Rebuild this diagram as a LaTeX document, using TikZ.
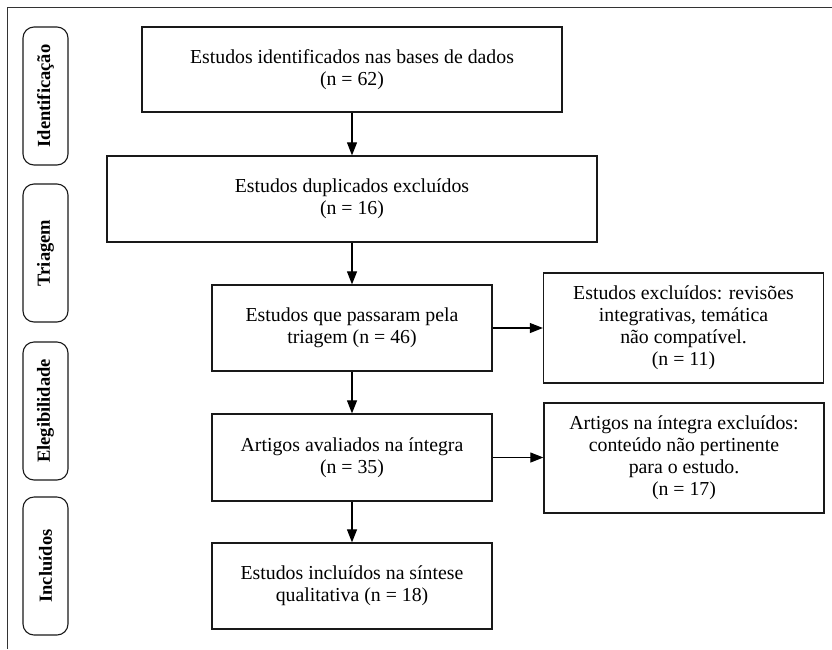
\documentclass[tikz,border=0pt]{standalone}
\usepackage{fontspec}
\setmainfont{Liberation Serif}
\usetikzlibrary{arrows.meta,positioning}

\begin{document}
\begin{tikzpicture}[x=1pt,y=-1pt,font=\fontsize{19.8}{22}\selectfont,
  box/.style={draw=black!90,line width=1.3pt,inner sep=0pt,align=center,minimum width=280pt,minimum height=86pt},
  phase/.style={draw=black!90,line width=1.1pt,rounded corners=11pt,rotate=90,inner sep=0pt,
    minimum width=138pt,minimum height=45pt,font=\fontsize{18.5}{20}\selectfont\bfseries},
  flow/.style={-{Triangle[length=13pt,width=10pt]},line width=1.1pt}]
\useasboundingbox (0,0) rectangle (832,649);
% frame
\draw[black!80,line width=1.3pt] (832,7.5) -- (7.5,7.5) -- (7.5,649);
% phases
\node[phase] (fIdent) at (45.5,96) {Identificação};
\node[phase] (fTriagem) at (45.5,253) {Triagem};
\node[phase] (fEleg) at (45.5,411) {Elegibilidade};
\node[phase] (fIncl) at (45.5,566) {Incluídos};
% main column
\node[box,minimum width=420pt,minimum height=85pt] (identif) at (352,69.5) {Estudos identificados nas bases de dados\\(n = 62)};
\node[box,minimum width=490pt] (duplic) at (352,199) {Estudos duplicados excluídos\\(n = 16)};
\node[box] (triados) at (352,328) {Estudos que passaram pela\\triagem (n = 46)};
\node[box,minimum height=87pt] (avaliados) at (352,457.5) {Artigos avaliados na íntegra\\(n = 35)};
\node[box] (incluidos) at (352,586) {Estudos incluídos na síntese\\qualitativa (n = 18)};
% exclusions
\node[box,minimum height=110pt] (exclA) at (683.5,328) {Estudos excluídos: revisões\\integrativas, temática\\não compatível.\\(n = 11)};
\node[box,minimum height=110pt] (exclB) at (684,458) {Artigos na íntegra excluídos:\\conteúdo não pertinente\\para o estudo.\\(n = 17)};
% arrows
\draw[flow] (identif) -- (duplic);
\draw[flow] (duplic) -- (triados);
\draw[flow] (triados) -- (avaliados);
\draw[flow] (avaliados) -- (incluidos);
\draw[flow] (triados.east) -- (triados.east -| exclA.west);
\draw[flow] (avaliados.east) -- (avaliados.east -| exclB.west);
\end{tikzpicture}
\end{document}
